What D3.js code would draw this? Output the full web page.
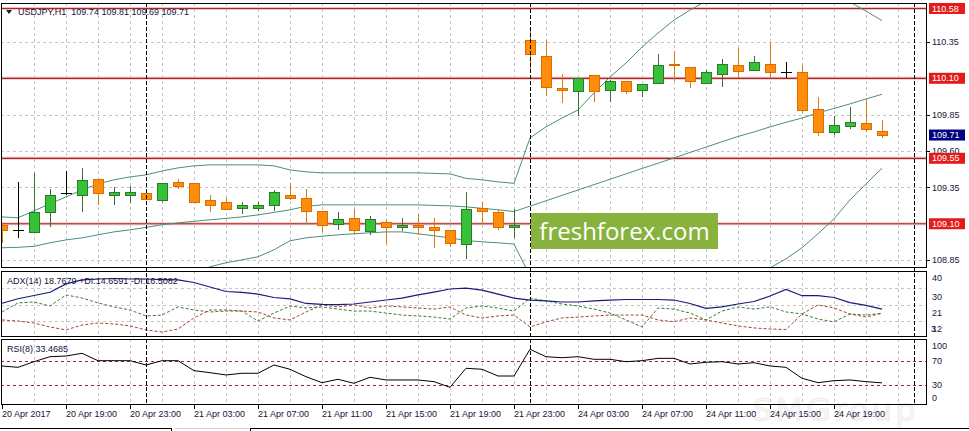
<!DOCTYPE html>
<html><head><meta charset="utf-8">
<script src="https://cdn.jsdelivr.net/npm/d3@7"></script>
<style>body{margin:0;background:#fff;overflow:hidden}svg{display:block}</style>
</head><body>
<svg id="c" width="969" height="431"></svg>
<script>
// ---------------- DATA ----------------
const times = ["20 15:00","20 16:00","20 17:00","20 18:00","20 19:00","20 20:00","20 21:00","20 22:00","20 23:00",
"21 00:00","21 01:00","21 02:00","21 03:00","21 04:00","21 05:00","21 06:00","21 07:00","21 08:00","21 09:00","21 10:00","21 11:00","21 12:00",
"21 13:00","21 14:00","21 15:00","21 16:00","21 17:00","21 18:00","21 19:00","21 20:00","21 21:00","21 22:00","21 23:00",
"24 00:00","24 01:00","24 02:00","24 03:00","24 04:00","24 05:00","24 06:00","24 07:00","24 08:00","24 09:00","24 10:00","24 11:00",
"24 12:00","24 13:00","24 14:00","24 15:00","24 16:00","24 17:00","24 18:00","24 19:00","24 20:00","24 21:00","24 22:00"];
const futureTimes = ["24 23:00","25 00:00","25 01:00"];

const open  = [109.09,109.06,109.04,109.18,109.31,109.30,109.41,109.30,109.30,109.31,109.26,109.39,109.38,109.26,109.25,109.21,109.21,109.23,109.30,109.28,109.19,109.10,109.14,109.05,109.11,109.08,109.09,109.08,109.06,108.96,109.21,109.18,109.08,110.36,110.25,110.03,110.01,110.12,110.02,110.08,110.02,110.07,110.20,110.18,110.07,110.13,110.19,110.16,110.20,110.14,110.14,109.89,109.73,109.77,109.79,109.74];
const high  = [109.10,109.39,109.45,109.34,109.46,109.48,109.41,109.35,109.36,109.33,109.38,109.41,109.38,109.30,109.28,109.25,109.25,109.33,109.38,109.34,109.19,109.18,109.20,109.15,109.13,109.14,109.17,109.14,109.06,109.32,109.25,109.20,109.20,110.45,110.36,110.13,110.10,110.12,110.09,110.08,110.06,110.27,110.29,110.18,110.16,110.23,110.31,110.25,110.34,110.21,110.19,109.97,109.84,109.90,109.96,109.81];
const low   = [108.97,109.00,109.04,109.08,109.30,109.18,109.23,109.23,109.24,109.27,109.25,109.34,109.24,109.18,109.20,109.17,109.19,109.19,109.26,109.10,109.04,109.06,109.02,109.02,108.96,109.05,109.02,108.93,108.94,108.86,109.10,109.06,109.00,110.16,109.98,109.93,109.84,109.94,109.94,109.99,109.97,110.07,110.08,110.03,110.06,110.04,110.10,110.16,110.10,110.10,109.86,109.70,109.71,109.75,109.73,109.69];
const close = [109.06,109.06,109.18,109.30,109.31,109.40,109.31,109.32,109.32,109.27,109.38,109.36,109.25,109.23,109.20,109.23,109.23,109.32,109.28,109.19,109.09,109.13,109.06,109.13,109.08,109.09,109.08,109.06,108.97,109.20,109.19,109.08,109.09,110.27,110.04,110.02,110.10,110.01,110.08,110.01,110.06,110.19,110.19,110.08,110.14,110.20,110.15,110.21,110.14,110.14,109.88,109.73,109.78,109.80,109.75,109.71];

const bbUpper  = [109.147,109.141,109.189,109.237,109.285,109.333,109.374,109.402,109.422,109.436,109.463,109.484,109.498,109.505,109.505,109.505,109.505,109.498,109.470,109.457,109.450,109.450,109.450,109.450,109.450,109.450,109.450,109.446,109.443,109.412,109.402,109.388,109.378,109.690,109.766,109.827,109.882,109.999,110.109,110.205,110.315,110.411,110.500,110.569,110.631,110.672,110.707,110.727,110.741,110.741,110.734,110.713,110.679,110.624,110.562,110.497];
const bbMiddle = [108.935,108.938,108.945,108.969,108.989,109.003,109.024,109.044,109.058,109.075,109.093,109.106,109.117,109.127,109.137,109.147,109.161,109.178,109.196,109.220,109.230,109.230,109.230,109.230,109.230,109.230,109.230,109.226,109.223,109.216,109.206,109.196,109.184,109.221,109.258,109.295,109.332,109.369,109.406,109.443,109.480,109.516,109.553,109.590,109.627,109.664,109.700,109.731,109.766,109.797,109.827,109.862,109.893,109.924,109.958,109.990];
const bbLower  = [108.722,108.735,108.701,108.701,108.694,108.674,108.674,108.687,108.694,108.715,108.728,108.749,108.770,108.804,108.832,108.852,108.873,108.921,108.983,109.003,109.014,109.024,109.031,109.038,109.044,109.044,109.031,109.017,109.003,108.985,108.976,108.969,108.960,108.742,108.742,108.763,108.783,108.735,108.701,108.680,108.639,108.619,108.605,108.612,108.619,108.653,108.694,108.742,108.797,108.859,108.935,109.031,109.134,109.264,109.374,109.482];

const adx     = [26.2,28.7,30.5,32.3,36.9,39.1,39.6,39.9,39.6,39.6,39.3,39.1,37.7,35.2,32.7,32.2,31.3,29.4,28.6,26.1,25.6,25.5,25.8,26.9,28.0,29.1,30.8,32.4,34.1,34.6,33.5,31.3,29.1,28.0,27.5,26.9,26.9,27.5,28.0,28.3,28.3,28.3,28.0,26.1,23.4,24.2,25.8,27.2,30.2,33.9,30.4,30.4,29.4,26.6,25.0,23.0];
const plusDI  = [21.4,26.4,26.9,24.7,30.8,29.1,26.4,24.2,22.5,19.2,19.7,24.2,22.5,21.4,21.9,21.9,16.4,20.8,24.7,23.6,24.2,23.0,21.9,21.9,20.8,19.7,19.2,18.6,17.5,23.6,24.7,23.6,21.9,29.1,27.5,25.8,24.7,23.0,20.8,17.0,13.1,23.6,23.0,20.8,17.0,21.9,24.2,23.0,24.2,21.4,20.3,17.5,15.9,20.3,19.7,20.7];
const minusDI = [17.0,16.4,15.3,13.1,11.5,14.2,15.3,14.8,13.7,11.5,10.3,12.0,18.1,22.5,22.5,21.9,21.4,18.1,17.0,21.4,25.3,24.2,25.3,23.6,24.7,24.2,23.6,23.0,24.2,19.7,18.1,19.2,19.7,13.1,15.9,18.1,18.6,19.2,19.7,19.7,19.7,17.0,16.0,18.1,17.0,15.3,13.7,12.6,12.0,11.7,20.3,25.3,23.6,20.3,18.6,20.7];

const rsi = [61.3,59.1,68.4,76.6,77.7,82.2,70,70,70,62.9,70,70,53.6,50.3,46.5,49.3,49.3,62.9,55.9,43.7,33.8,39.4,32.8,42.7,38.3,38.3,38.3,35.5,26.2,57.5,55.9,44.8,44.8,88.8,76.6,74.9,76.6,72.3,72.3,68.4,70,73.9,73.9,64.6,67.4,68.4,64.6,66.7,61.3,59.1,41.1,33.8,37.1,38.3,35.5,33.5];

const priceTicks = [110.35,110.10,109.85,109.60,109.35,109.10,108.85];
const priceLabels = [110.35,109.85,109.60,109.35,108.85];
const levelLines = [110.58,110.10,109.55,109.10];
const currentPrice = 109.71;
const adxTicks = [40,30,21,12,3];
const adxGrid = [34.6,25.3,16.6];
const rsiTicks = [100,70,30,0];
const rsiLevels = [70,30];
const separators = ["21 00:00","24 00:00","25 00:00"];
const xTickTimes  = ["20 15:00","20 19:00","20 23:00","21 03:00","21 07:00","21 11:00","21 15:00","21 19:00","21 23:00","24 03:00","24 07:00","24 11:00","24 15:00","24 19:00"];
const xTickLabels = ["20 Apr 2017","20 Apr 19:00","20 Apr 23:00","21 Apr 03:00","21 Apr 07:00","21 Apr 11:00","21 Apr 15:00","21 Apr 19:00","21 Apr 23:00","24 Apr 03:00","24 Apr 07:00","24 Apr 11:00","24 Apr 15:00","24 Apr 19:00"];
const headerMain = "USDJPY,H1  109.74 109.81 109.69 109.71";
const headerADX = "ADX(14) 18.7679 +DI:14.6591 -DI:16.5082";
const headerRSI = "RSI(8) 33.4685";

// ---------------- LAYOUT ----------------
const L = 1, R = 927;
const P = {main:{t:3,b:268}, adx:{t:271,b:337}, rsi:{t:339,b:405}};
const FONT = "'Liberation Sans', Arial, sans-serif";
const TXT = "#14143a";

const allTimes = times.concat(futureTimes);
const x = d3.scalePoint().domain(allTimes).range([2, 930]);
const yP = d3.scaleLinear().domain([110.10, 109.55]).range([78.3, 158.3]);
const yA = d3.scaleLinear().domain([40, 12]).range([278.3, 329]);
const yR = d3.scaleLinear().domain([70, 30]).range([360.7, 385]);

const svg = d3.select("#c");
svg.append("rect").attr("width",969).attr("height",431).attr("fill","#fff");
const defs = svg.append("defs");
Object.entries(P).forEach(([k,p])=>{
  defs.append("clipPath").attr("id","clip-"+k).append("rect")
    .attr("x",L).attr("y",p.t).attr("width",R-L).attr("height",p.b-p.t);
});

// faint watermark bottom right (behind everything)
svg.append("text").attr("x",752).attr("y",421).attr("font-family","'DejaVu Sans', sans-serif").attr("font-size",32)
  .attr("letter-spacing",3).attr("fill","#f6f6f6").attr("stroke","#ebebeb").attr("stroke-width",0.7).text("SMGroup");

const gridTimes = allTimes.filter((t,i)=> i>0 && i%2===0 && i<=56);

function layer(k){ return svg.append("g").attr("clip-path","url(#clip-"+k+")"); }

// grids
Object.keys(P).forEach(k=>{
  const p = P[k], g = layer(k);
  g.selectAll("line.v").data(gridTimes).join("line")
    .attr("x1",d=>x(d)+0.5).attr("x2",d=>x(d)+0.5).attr("y1",p.t).attr("y2",p.b)
    .attr("stroke","#c4c4c4").attr("stroke-dasharray","3,3").attr("shape-rendering","crispEdges");
});
const gMain = layer("main");
gMain.selectAll("line.h").data(priceTicks).join("line")
  .attr("x1",L).attr("x2",R).attr("y1",d=>Math.round(yP(d))+0.5).attr("y2",d=>Math.round(yP(d))+0.5)
  .attr("stroke","#c4c4c4").attr("stroke-dasharray","3,3").attr("shape-rendering","crispEdges");
const gAdx = layer("adx");
gAdx.selectAll("line.h").data(adxGrid).join("line")
  .attr("x1",L).attr("x2",R).attr("y1",d=>Math.round(yA(d))+0.5).attr("y2",d=>Math.round(yA(d))+0.5)
  .attr("stroke","#c4c4c4").attr("stroke-dasharray","3,3").attr("shape-rendering","crispEdges");
const gRsi = layer("rsi");

// separators
svg.append("g").selectAll("line").data(separators).join("line")
  .attr("x1",d=>x(d)+0.5).attr("x2",d=>x(d)+0.5).attr("y1",P.main.t).attr("y2",P.rsi.b)
  .attr("stroke","#000").attr("stroke-dasharray","4,2").attr("shape-rendering","crispEdges");

// red level lines
gMain.selectAll("line.lvl").data(levelLines).join("line")
  .attr("x1",L).attr("x2",R).attr("y1",d=>yP(d)).attr("y2",d=>yP(d))
  .attr("stroke","#f2c0c0").attr("stroke-width",3);
gMain.selectAll("line.lvl2").data(levelLines).join("line")
  .attr("x1",L).attr("x2",R).attr("y1",d=>yP(d)).attr("y2",d=>yP(d))
  .attr("stroke","#a52a2a").attr("stroke-width",1.2);

// bollinger
const bbLine = arr => d3.line().x((d,i)=>x(times[i])).y(d=>yP(d))(arr);
[bbUpper,bbMiddle,bbLower].forEach(a=>{
  gMain.append("path").attr("d",bbLine(a)).attr("fill","none").attr("stroke","#4a8f78").attr("stroke-width",1);
});

// candles
const candles = times.map((t,i)=>({t,o:open[i],h:high[i],l:low[i],c:close[i]}));
const cg = gMain.append("g");
candles.forEach(d=>{
  const X = Math.round(x(d.t));
  const doji = d.o === d.c;
  const up = d.c > d.o;
  const wick = doji ? "#000" : (up ? "#3b6f35" : "#e07a10");
  cg.append("line").attr("x1",X+0.5).attr("x2",X+0.5).attr("y1",yP(d.h)).attr("y2",yP(d.l))
    .attr("stroke",wick).attr("stroke-width",1).attr("shape-rendering","crispEdges");
  if (doji){
    const yy = Math.round(yP(d.o))+0.5;
    cg.append("line").attr("x1",X-5).attr("x2",X+6).attr("y1",yy).attr("y2",yy)
      .attr("stroke","#000").attr("shape-rendering","crispEdges");
  } else {
    const top = Math.round(yP(Math.max(d.o,d.c))), bot = Math.round(yP(Math.min(d.o,d.c)));
    cg.append("rect").attr("x",X-4.5).attr("y",top+0.5).attr("width",10).attr("height",Math.max(1,bot-top))
      .attr("fill", up ? "#36c236" : "#ff8c0a")
      .attr("stroke", up ? "#2f7a2a" : "#d96f00").attr("stroke-width",1).attr("shape-rendering","crispEdges");
  }
});

// watermark box
svg.append("rect").attr("x",531).attr("y",213).attr("width",187).attr("height",36).attr("fill","#88b23e");
svg.append("text").attr("x",624.5).attr("y",240).attr("text-anchor","middle")
  .attr("font-family","'Open Sans', 'Noto Sans', sans-serif").attr("font-size",24).attr("fill","#fff")
  .text("freshforex.com");

// ADX lines
const adxLine = d3.line().x((d,i)=>x(times[i])).y(d=>yA(d));
gAdx.append("path").attr("d",adxLine(plusDI)).attr("fill","none").attr("stroke","#3d7a3a").attr("stroke-dasharray","3,2");
gAdx.append("path").attr("d",adxLine(minusDI)).attr("fill","none").attr("stroke","#a5452e").attr("stroke-dasharray","3,2");
gAdx.append("path").attr("d",adxLine(adx)).attr("fill","none").attr("stroke","#1a1a78").attr("stroke-width",1.2);

// RSI
gRsi.selectAll("line.lv").data(rsiLevels).join("line")
  .attr("x1",L).attr("x2",R).attr("y1",d=>Math.round(yR(d))+0.5).attr("y2",d=>Math.round(yR(d))+0.5)
  .attr("stroke","#8b2f2f").attr("stroke-dasharray","3,3").attr("shape-rendering","crispEdges");
gRsi.append("path").attr("d",d3.line().x((d,i)=>x(times[i])).y(d=>yR(d))(rsi))
  .attr("fill","none").attr("stroke","#000").attr("stroke-width",1);

// panel borders
Object.values(P).forEach(p=>{
  svg.append("rect").attr("x",L+0.5).attr("y",p.t+0.5).attr("width",R-L-1).attr("height",p.b-p.t-1)
    .attr("fill","none").attr("stroke","#000").attr("shape-rendering","crispEdges");
});

// right axis - main
const ax = svg.append("g").attr("font-family",FONT).attr("font-size",9).attr("fill",TXT);
ax.selectAll("text.p").data(priceLabels).join("text")
  .attr("x",932).attr("y",d=>yP(d)).attr("dy","0.35em").text(d=>d.toFixed(2));
ax.selectAll("line.pt").data(priceLabels).join("line")
  .attr("x1",R).attr("x2",R+3).attr("y1",d=>Math.round(yP(d))+0.5).attr("y2",d=>Math.round(yP(d))+0.5)
  .attr("stroke","#000").attr("shape-rendering","crispEdges");
levelLines.forEach(v=>{
  const yy = yP(v);
  ax.append("rect").attr("x",929).attr("y",yy-5.5).attr("width",36).attr("height",11).attr("fill","#e41b1b");
  ax.append("text").attr("x",932).attr("y",yy).attr("dy","0.35em").attr("fill","#fff").text(v.toFixed(2));
});
{
  const yy = yP(currentPrice);
  ax.append("rect").attr("x",929).attr("y",yy-5.5).attr("width",36).attr("height",11).attr("fill","#000080");
  ax.append("text").attr("x",932).attr("y",yy).attr("dy","0.35em").attr("fill","#fff").text(currentPrice.toFixed(2));
}
// ADX axis
ax.selectAll("text.a").data(adxTicks).join("text")
  .attr("x",d=> d<10 ? 931 : 932).attr("y",d=>Math.min(yA(d), P.adx.b-8)).attr("dy","0.35em").text(d=>d);
// RSI axis
ax.selectAll("text.r").data(rsiTicks).join("text")
  .attr("x",932).attr("y",d=>Math.max(P.rsi.t+7, Math.min(yR(d), P.rsi.b-7))).attr("dy","0.35em").text(d=>d);

// x axis
ax.selectAll("line.xt").data(xTickTimes).join("line")
  .attr("x1",d=>x(d)+0.5).attr("x2",d=>x(d)+0.5).attr("y1",P.rsi.b).attr("y2",P.rsi.b+4)
  .attr("stroke","#000").attr("shape-rendering","crispEdges");
ax.selectAll("text.xl").data(xTickTimes).join("text")
  .attr("x",d=>x(d)).attr("y",417).text((d,i)=>xTickLabels[i]);

// headers
svg.append("path").attr("d","M6,10 L12,10 L9,14 Z").attr("fill","#1a1a3a");
svg.append("text").attr("x",18).attr("y",15).attr("font-family",FONT).attr("font-size",9).attr("fill",TXT)
  .attr("xml:space","preserve").style("white-space","pre").text(headerMain);
svg.append("text").attr("x",7).attr("y",283.5).attr("font-family",FONT).attr("font-size",9).attr("fill",TXT).text(headerADX);
svg.append("text").attr("x",7).attr("y",352).attr("font-family",FONT).attr("font-size",9).attr("fill",TXT).text(headerRSI);

// bottom tab bar
svg.append("path").attr("d","M0,428.5 H171.5 V431").attr("fill","none").attr("stroke","#000").attr("shape-rendering","crispEdges");
svg.append("path").attr("d","M175,428.5 H249").attr("fill","none").attr("stroke","#d0d0d0").attr("shape-rendering","crispEdges");
svg.append("path").attr("d","M250.5,431 V428.5 H969").attr("fill","none").attr("stroke","#000").attr("shape-rendering","crispEdges");
</script>
</body></html>
